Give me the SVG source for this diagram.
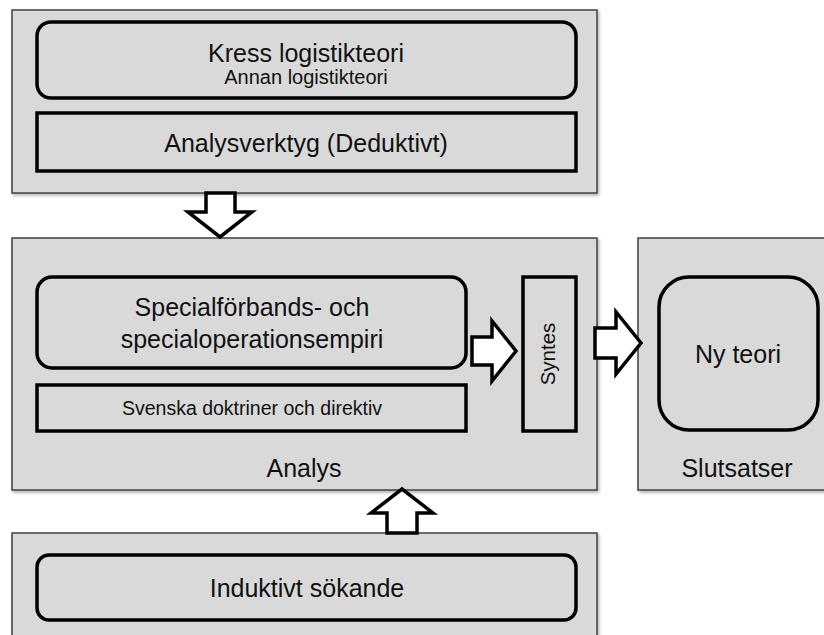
<svg xmlns="http://www.w3.org/2000/svg" width="824" height="635" viewBox="0 0 824 635">
<defs>
<filter id="sh" x="-5%" y="-5%" width="110%" height="115%">
<feDropShadow dx="1.5" dy="2" stdDeviation="1.5" flood-color="#000" flood-opacity="0.3"/>
</filter>
</defs>
<style>
.panel{fill:#d9d9d9;stroke:#404040;stroke-width:1.5}
.inner{fill:#d9d9d9;stroke:#000;stroke-width:3.5}
.arrow{fill:#fff;stroke:#000;stroke-width:3.5;stroke-linejoin:miter}
text{font-family:"Liberation Sans",Arial,sans-serif;fill:#111;text-anchor:middle}
.big{font-size:25px}
.small{font-size:19.5px}
</style>
<rect width="824" height="635" fill="#fff"/>
<g id="teori">
<rect class="panel" x="12" y="10" width="585" height="183" filter="url(#sh)"/>
<g id="kress">
<rect class="inner" x="37" y="22" width="539" height="76" rx="14"/>
<text class="big" x="306" y="62">Kress logistikteori</text>
<text class="small" x="306" y="84" style="font-size:20px">Annan logistikteori</text>
</g>
<g id="analysverktyg">
<rect class="inner" x="37" y="113" width="539" height="58"/>
<text class="big" x="306" y="152">Analysverktyg (Deduktivt)</text>
</g>
</g>
<g id="analys">
<rect class="panel" x="12" y="238" width="585" height="252" filter="url(#sh)"/>
<text class="big" x="304" y="477">Analys</text>
<g id="empiri">
<rect class="inner" x="37" y="277" width="429" height="91" rx="15"/>
<text class="big" x="252" y="316">Specialförbands- och</text>
<text class="big" x="252" y="348">specialoperationsempiri</text>
</g>
<g id="doktriner">
<rect class="inner" x="37" y="385" width="429" height="46"/>
<text class="small" x="252" y="415">Svenska doktriner och direktiv</text>
</g>
<g id="syntes">
<rect class="inner" x="523" y="277" width="53" height="154"/>
<text x="0" y="0" transform="translate(555,354) rotate(-90)" style="font-size:20.5px">Syntes</text>
</g>
</g>
<g id="slutsatser">
<rect class="panel" x="638" y="238" width="200" height="252" filter="url(#sh)"/>
<text class="big" x="737" y="477">Slutsatser</text>
<g id="nyteori">
<rect class="inner" x="659" y="277" width="159" height="153" rx="30"/>
<text class="big" x="738" y="363">Ny teori</text>
</g>
</g>
<g id="induktivt">
<rect class="panel" x="12" y="533" width="585" height="120" filter="url(#sh)"/>
<g id="sokande">
<rect class="inner" x="37" y="555" width="539" height="65" rx="12"/>
<text class="big" x="307" y="597">Induktivt sökande</text>
</g>
</g>
<g id="connectors">
<polygon class="arrow" points="206,193 235,193 235,212 252,212 220,237 188,212 206,212"/>
<polygon class="arrow" points="472,337 492,337 492,321 516,351 492,381 492,365 472,365"/>
<polygon class="arrow" points="595,328 616,328 616,312 641,343 616,374 616,358 595,358"/>
<polygon class="arrow" points="387,533 387,513 371,513 402,489 433,513 417,513 417,533"/>
</g>
</svg>
